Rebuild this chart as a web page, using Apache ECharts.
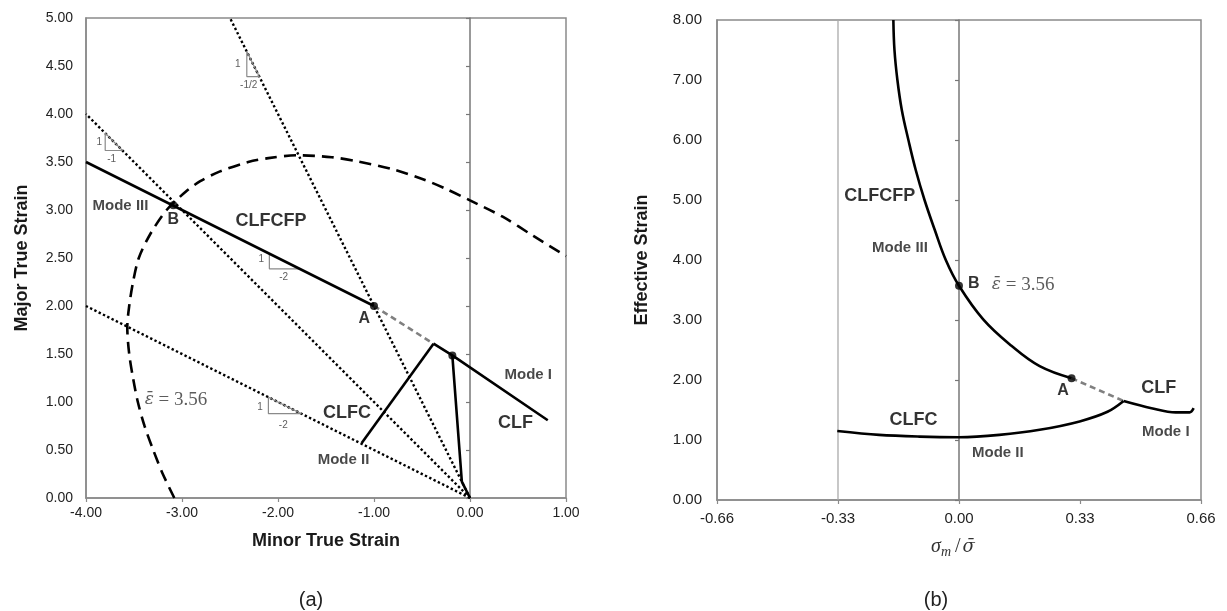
<!DOCTYPE html>
<html><head><meta charset="utf-8">
<script src="https://cdn.jsdelivr.net/npm/echarts@6/dist/echarts.min.js"></script>
<style>html,body{margin:0;padding:0;background:#fff}#c{width:1227px;height:611px}</style>
</head><body><div id="c"></div>
<script>
// ================= DATA: panel (a) Minor vs Major true strain =================
const aXTicks = [-4, -3, -2, -1, 0, 1];
const aYTicks = [0, 0.5, 1, 1.5, 2, 2.5, 3, 3.5, 4, 4.5, 5];
const aDotSlopeHalf = [[0, 0], [-2.5, 5]];      // slope 1/(-1/2)
const aDotSlopeOne = [[0, 0], [-4, 4]];         // slope 1/(-1)
const aDotSlopeTwo = [[0, 0], [-4, 2]];         // slope 1/(-2)
const aEpsContour = [[-3.08, 0], [-3.20, 0.25], [-3.30, 0.5], [-3.39, 0.75], [-3.46, 1.0], [-3.51, 1.25],
  [-3.55, 1.5], [-3.57, 1.78], [-3.55, 2.0], [-3.51, 2.25], [-3.45, 2.5], [-3.33, 2.75], [-3.16, 3.0],
  [-2.95, 3.2], [-2.81, 3.3], [-2.61, 3.4], [-2.31, 3.5], [-2.10, 3.54], [-1.80, 3.57], [-1.44, 3.55],
  [-1.19, 3.51], [-0.79, 3.42], [-0.49, 3.32], [-0.25, 3.22], [0.0, 3.1], [0.34, 2.93], [0.66, 2.73], [1.0, 2.52]];
const aCLFCFP = [[-4.0, 3.5], [-1.0, 2.0]];
const aExtension = [[-1.0, 2.0], [-0.38, 1.607]];
const aCLFC = [[-1.128, 0.572], [-0.38, 1.607]];
const aCLF = [[-0.38, 1.607], [-0.184, 1.485], [0.81, 0.81]];
const aDrop = [[-0.184, 1.485], [-0.085, 0.17], [0, 0]];
const aPoints = [[-3.09, 3.05], [-1.0, 2.0], [-0.184, 1.485]];
const aTriHalf = [[-2.325, 4.65], [-2.325, 4.39], [-2.195, 4.39], [-2.325, 4.65]];
const aTriOne = [[-3.8, 3.8], [-3.8, 3.62], [-3.62, 3.62], [-3.8, 3.8]];
const aTriTwoUp = [[-2.09, 2.545], [-2.09, 2.387], [-1.774, 2.387], [-2.09, 2.545]];
const aTriTwoLo = [[-2.1, 1.05], [-2.1, 0.878], [-1.756, 0.878], [-2.1, 1.05]];

// ================= DATA: panel (b) stress triaxiality vs effective strain =================
const bXTicks = [-0.66, -0.33, 0, 0.33, 0.66];
const bYTicks = [0, 1, 2, 3, 4, 5, 6, 7, 8];
const bRefLine = [[-0.33, 0], [-0.33, 8]];
const bCLFCFP = [[-0.179, 8.0], [-0.176, 7.5], [-0.168, 7.0], [-0.156, 6.5], [-0.138, 6.0], [-0.118, 5.5], [-0.094, 5.0],
  [-0.066, 4.5], [-0.036, 4.0], [0.0, 3.57], [0.066, 3.01], [0.143, 2.57], [0.22, 2.23], [0.307, 2.03]];
const bExtension = [[0.307, 2.03], [0.449, 1.65]];
const bCLFC = [[-0.332, 1.15], [-0.218, 1.085], [-0.108, 1.057], [0.0, 1.047], [0.11, 1.085], [0.22, 1.17],
  [0.329, 1.31], [0.405, 1.47], [0.449, 1.65]];
const bCLF = [[0.449, 1.65], [0.525, 1.53], [0.591, 1.46], [0.629, 1.46], [0.64, 1.53]];
const bPoints = [[0.0, 3.57], [0.307, 2.03]];

// ================= annotations (text, anchor in data coords) =================
const aNotes = [
  ['Mode III', -3.641, 3.045, 'mode'], ['B', -3.091, 2.896, 'pt'], ['CLFCFP', -2.073, 2.885, 'big'],
  ['A', -1.101, 1.872, 'pt'], ['CLFC', -1.281, 0.889, 'big'], ['Mode II', -1.318, 0.396, 'mode'],
  ['Mode I', 0.607, 1.281, 'mode'], ['CLF', 0.474, 0.784, 'big'], ['EPS', -3.0625, 1.021, 'eps'],
  ['1', -2.42, 4.518, 'tiny'], ['-1/2', -2.305, 4.302, 'tiny'],
  ['1', -3.861, 3.705, 'tiny'], ['-1', -3.732, 3.528, 'tiny'],
  ['1', -2.174, 2.486, 'tiny'], ['-2', -1.941, 2.299, 'tiny'],
  ['1', -2.1875, 0.945, 'tiny'], ['-2', -1.945, 0.760, 'tiny']
];
const bNotes = [
  ['CLFCFP', -0.216, 5.067, 'big'], ['Mode III', -0.161, 4.195, 'mode'], ['B', 0.040, 3.612, 'pt'],
  ['EPS', 0.175, 3.583, 'eps'], ['A', 0.284, 1.822, 'pt'], ['CLF', 0.545, 1.862, 'big'],
  ['CLFC', -0.124, 1.333, 'big'], ['Mode II', 0.106, 0.788, 'mode'], ['Mode I', 0.564, 1.138, 'mode']
];

// ================= chart =================
const SANS = "'Liberation Sans', Arial, sans-serif";
const SERIF = "'Liberation Serif', 'DejaVu Serif', serif";
const MARKF = "'DejaVu Serif', serif";
const AX = '#8a8a8a';
const fmt = v => (Math.abs(v) < 1e-9 ? 0 : v).toFixed(2);

function line(xi, yi, data, color, width, type, smooth) {
  return { type: 'line', xAxisIndex: xi, yAxisIndex: yi, data: data, symbol: 'none', showSymbol: false,
    smooth: smooth || false, clip: false, silent: true, lineStyle: { color: color, width: width, type: type } };
}
const styles = {
  mode: { fontSize: 15, fontWeight: 'bold', color: '#1a1a1a', fontFamily: SANS },
  big: { fontSize: 18, fontWeight: 'bold', color: '#000', fontFamily: SANS },
  pt: { fontSize: 16, fontWeight: 'bold', color: '#000', fontFamily: SANS },
  tiny: { fontSize: 10, color: '#333', fontFamily: SANS },
  eps: { fontSize: 19, color: '#333', fontFamily: SERIF }
};
function notes(xi, yi, list) {
  return { type: 'scatter', xAxisIndex: xi, yAxisIndex: yi, symbolSize: 1, silent: true, z: 10,
    itemStyle: { color: 'rgba(0,0,0,0)' },
    data: list.map(n => {
      const st = Object.assign({}, styles[n[3]]);
      const lab = Object.assign({ show: true, position: 'inside' }, st);
      if (n[0] === 'EPS') {
        lab.formatter = '{e|ε̄}{n| = 3.56}';
        lab.rich = { e: { fontFamily: MARKF, fontStyle: 'italic', fontSize: 17, color: '#333' },
                     n: { fontFamily: SERIF, fontSize: 19, color: '#333' } };
      } else lab.formatter = n[0];
      return { value: [n[1], n[2]], label: lab };
    }) };
}
function pts(xi, yi, data) {
  return { type: 'scatter', xAxisIndex: xi, yAxisIndex: yi, data: data, symbolSize: 8, z: 8, silent: true,
    itemStyle: { color: '#000' } };
}
function xAx(grid, ticks, margin, fs) {
  return { gridIndex: grid, type: 'value', min: ticks[0], max: ticks[ticks.length - 1], interval: ticks[1] - ticks[0],
    axisLine: { onZero: false, lineStyle: { color: AX, width: 1.5 } },
    axisTick: { show: true, length: 4, lineStyle: { color: AX, width: 1.2 } },
    axisLabel: { formatter: fmt, fontSize: fs, color: '#222', margin: margin, fontFamily: SANS },
    splitLine: { show: false } };
}
function yAxLab(grid, ticks, margin, fs) {
  return { gridIndex: grid, type: 'value', position: 'left', min: ticks[0], max: ticks[ticks.length - 1], interval: ticks[1] - ticks[0],
    axisLine: { show: true, onZero: false, lineStyle: { color: AX, width: 1.5 } },
    axisTick: { show: false },
    axisLabel: { formatter: fmt, fontSize: fs, color: '#222', margin: margin, fontFamily: SANS },
    splitLine: { show: false } };
}
function yAxZero(grid, ticks) {
  return { gridIndex: grid, type: 'value', position: 'left', min: ticks[0], max: ticks[ticks.length - 1], interval: ticks[1] - ticks[0],
    axisLine: { show: true, onZero: true, lineStyle: { color: '#777', width: 1.5 } },
    axisTick: { show: true, length: 4, lineStyle: { color: '#777', width: 1.2 } },
    axisLabel: { show: false }, splitLine: { show: false } };
}

const chart = echarts.init(document.getElementById('c'), null, { renderer: 'canvas' });
const DOT = [2.4, 2.4];
chart.setOption({
  animation: false,
  backgroundColor: '#fff',
  grid: [
    { left: 86, top: 18, width: 480, height: 480, show: true, borderColor: AX, borderWidth: 1.5 },
    { left: 717, top: 20, width: 484, height: 480, show: true, borderColor: AX, borderWidth: 1.5 }
  ],
  xAxis: [xAx(0, aXTicks, 8, 14), xAx(1, bXTicks, 11, 15)],
  yAxis: [yAxLab(0, aYTicks, 13, 14), yAxZero(0, aYTicks), yAxLab(1, bYTicks, 15, 15), yAxZero(1, bYTicks)],
  graphic: [
    { type: 'text', x: 22, y: 258, rotation: Math.PI / 2,
      style: { text: 'Major True Strain', fontSize: 18, fontWeight: 'bold', fontFamily: SANS, fill: '#1a1a1a', align: 'center', verticalAlign: 'middle' } },
    { type: 'text', x: 326, y: 541,
      style: { text: 'Minor True Strain', fontSize: 18, fontWeight: 'bold', fontFamily: SANS, fill: '#1a1a1a', align: 'center', verticalAlign: 'middle' } },
    { type: 'text', x: 642, y: 260, rotation: Math.PI / 2,
      style: { text: 'Effective Strain', fontSize: 18, fontWeight: 'bold', fontFamily: SANS, fill: '#1a1a1a', align: 'center', verticalAlign: 'middle' } },
    { type: 'text', x: 953, y: 547,
      style: { text: '{i|σ}{s|m}{n|/}{k|σ̄}', align: 'center', verticalAlign: 'middle', fill: '#333',
        rich: { i: { fontFamily: SERIF, fontStyle: 'italic', fontSize: 20, lineHeight: 24, verticalAlign: 'middle' },
                k: { fontFamily: MARKF, fontStyle: 'italic', fontSize: 18, lineHeight: 24, verticalAlign: 'middle' },
                s: { fontFamily: SERIF, fontStyle: 'italic', fontSize: 14, lineHeight: 24, verticalAlign: 'bottom', padding: [8, 2, 0, 0] },
                n: { fontFamily: SERIF, fontSize: 20, lineHeight: 24, padding: [0, 2, 0, 2] } } } },
    { type: 'text', x: 311, y: 600,
      style: { text: '(a)', fontSize: 20, fontFamily: SANS, fill: '#222', align: 'center', verticalAlign: 'middle' } },
    { type: 'text', x: 936, y: 600,
      style: { text: '(b)', fontSize: 20, fontFamily: SANS, fill: '#222', align: 'center', verticalAlign: 'middle' } }
  ],
  series: [
    line(0, 0, aDotSlopeHalf, '#000', 2.4, DOT),
    line(0, 0, aDotSlopeOne, '#000', 2.4, DOT),
    line(0, 0, aDotSlopeTwo, '#000', 2.4, DOT),
    line(0, 0, aEpsContour, '#000', 2.6, [12, 7], 0.3),
    line(0, 0, aTriHalf, '#8a8a8a', 1.2, 'solid'),
    line(0, 0, aTriOne, '#8a8a8a', 1.2, 'solid'),
    line(0, 0, aTriTwoUp, '#8a8a8a', 1.2, 'solid'),
    line(0, 0, aTriTwoLo, '#8a8a8a', 1.2, 'solid'),
    line(0, 0, aCLFCFP, '#000', 2.6, 'solid'),
    line(0, 0, aExtension, '#808080', 2.6, [6, 4]),
    line(0, 0, aCLFC, '#000', 2.6, 'solid'),
    line(0, 0, aCLF, '#000', 2.6, 'solid'),
    line(0, 0, aDrop, '#000', 2.6, 'solid'),
    pts(0, 0, aPoints),
    notes(0, 0, aNotes),
    line(1, 2, bRefLine, '#aaaaaa', 1.3, 'solid'),
    line(1, 2, bCLFCFP, '#000', 2.6, 'solid', 0.4),
    line(1, 2, bExtension, '#808080', 2.6, [6, 4]),
    line(1, 2, bCLFC, '#000', 2.6, 'solid', 0.35),
    line(1, 2, bCLF, '#000', 2.6, 'solid', 0.35),
    pts(1, 2, bPoints),
    notes(1, 2, bNotes)
  ]
});
</script></body></html>
